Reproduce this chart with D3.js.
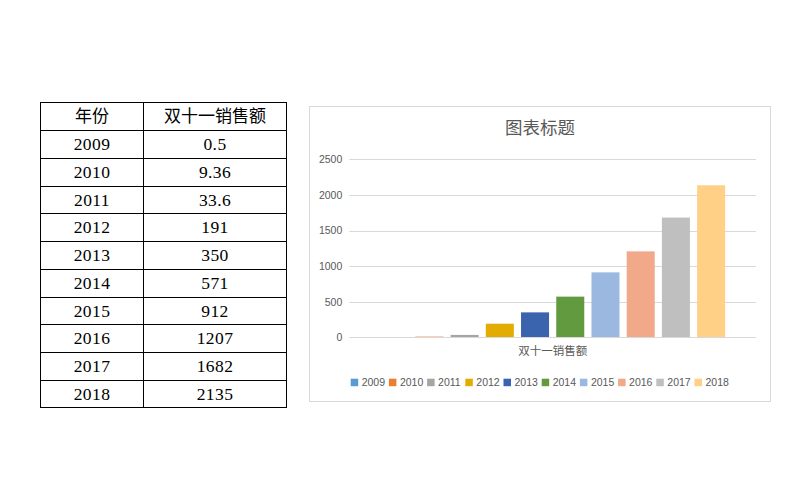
<!DOCTYPE html>
<html><head><meta charset="utf-8">
<script src="https://cdn.jsdelivr.net/npm/d3@7"></script>
<style>body{margin:0;background:#fff;}svg{display:block;}</style>
</head><body>
<svg id="c" width="807" height="484"></svg>
<script>
const years = ["2009","2010","2011","2012","2013","2014","2015","2016","2017","2018"];
const salesText = ["0.5","9.36","33.6","191","350","571","912","1207","1682","2135"];
const sales = [0.5, 9.36, 33.6, 191, 350, 571, 912, 1207, 1682, 2135];
const headers = ["年份", "双十一销售额"];
const category = ["双十一销售额"];
const yTicks = [0, 500, 1000, 1500, 2000, 2500];
const colors = ["#5B9BD5","#ED7D31","#A5A5A5","#E3AC00","#3A64AE","#629A3F","#9BB9E0","#F1A98A","#BFBFBF","#FFD085"];
const chartTitle = "图表标题";

const svg = d3.select("#c");
const cjk = "'Noto Sans CJK SC', 'Noto Sans', sans-serif";

// ---- Table ----
const tx0 = 40.5, tx1 = 143.5, tx2 = 286.5, ty0 = 102.5, ty1 = 407.5;
const rows = [headers].concat(years.map((y, i) => [y, salesText[i]]));
const rowY = d3.scaleBand().domain(d3.range(rows.length)).range([ty0, ty1]);
const tg = svg.append("g");
tg.append("rect").attr("x", tx0).attr("y", ty0).attr("width", tx2 - tx0).attr("height", ty1 - ty0)
  .attr("fill", "none").attr("stroke", "#000").attr("stroke-width", 1);
tg.append("line").attr("x1", tx1).attr("x2", tx1).attr("y1", ty0).attr("y2", ty1).attr("stroke", "#000");
tg.selectAll(".hl").data(d3.range(1, rows.length)).join("line")
  .attr("x1", tx0).attr("x2", tx2)
  .attr("y1", d => Math.round(rowY(d)) + 0.5).attr("y2", d => Math.round(rowY(d)) + 0.5)
  .attr("stroke", "#000");
rows.forEach((r, i) => {
  const cy = rowY(i) + rowY.bandwidth() / 2;
  [[(tx0 + tx1) / 2, r[0]], [(tx1 + tx2) / 2, r[1]]].forEach(([cx, t]) => {
    tg.append("text").attr("x", cx).attr("y", cy).attr("dy", "0.35em")
      .attr("text-anchor", "middle")
      .attr("font-family", i === 0 ? cjk : "'Liberation Serif', serif")
      .attr("font-size", i === 0 ? 17 : 17.5)
      .attr("letter-spacing", i === 0 ? 0 : 0.4)
      .attr("fill", "#000").text(t);
  });
});

// ---- Chart ----
const cg = svg.append("g");
cg.append("rect").attr("x", 309.5).attr("y", 106.5).attr("width", 461).attr("height", 295)
  .attr("fill", "#fff").attr("stroke", "#d9d9d9");
cg.append("text").attr("x", 540).attr("y", 128).attr("dy", "0.35em").attr("text-anchor", "middle")
  .attr("font-family", cjk).attr("font-size", 17.5).attr("fill", "#595959").text(chartTitle);

const plotL = 349.3, plotR = 756, y0 = 337.3, yTop = 159.3;
const y = d3.scaleLinear().domain([0, 2500]).range([y0, yTop]);
const x0 = d3.scaleBand().domain(category).range([plotL, plotR]).paddingOuter(0.0774);
const x1 = d3.scaleBand().domain(years).range([0, x0.bandwidth()]).paddingInner(0.2045).paddingOuter(0.1023);

cg.selectAll(".grid").data(yTicks.filter(d => d > 0)).join("line")
  .attr("x1", plotL).attr("x2", plotR)
  .attr("y1", d => Math.round(y(d)) + 0.5).attr("y2", d => Math.round(y(d)) + 0.5)
  .attr("stroke", "#d9d9d9");

const yAxis = d3.axisLeft(y).tickValues(yTicks).tickFormat(d3.format("d")).tickSize(0).tickPadding(7);
const ya = cg.append("g").attr("transform", `translate(${plotL},0)`).call(yAxis);
ya.select(".domain").remove();
ya.selectAll("text").attr("font-family", "'Liberation Sans', Arial, sans-serif")
  .attr("font-size", 10.5).attr("fill", "#595959");

const bg = cg.append("g");
years.forEach((yr, i) => {
  bg.append("rect")
    .attr("x", x0(category[0]) + x1(yr)).attr("width", x1.bandwidth())
    .attr("y", y(sales[i])).attr("height", y0 - y(sales[i]))
    .attr("fill", colors[i]);
});

cg.append("line").attr("x1", plotL).attr("x2", plotR).attr("y1", 337.5).attr("y2", 337.5)
  .attr("stroke", "#d9d9d9");

const xAxis = d3.axisBottom(x0).tickSize(0).tickPadding(10);
const xa = cg.append("g").attr("transform", `translate(0,${y0})`).call(xAxis);
xa.select(".domain").remove();
xa.selectAll("text").attr("font-family", cjk).attr("font-size", 11.5).attr("fill", "#595959");

// legend
const lx = d3.scaleBand().domain(years).range([350.7, 350.7 + 38.2 * 10]);
const lg = cg.append("g");
years.forEach((yr, i) => {
  lg.append("rect").attr("x", lx(yr)).attr("y", 378.7).attr("width", 7.5).attr("height", 7.5).attr("fill", colors[i]);
  lg.append("text").attr("x", lx(yr) + 11).attr("y", 382.5).attr("dy", "0.35em")
    .attr("font-family", "'Liberation Sans', Arial, sans-serif").attr("font-size", 10.5)
    .attr("fill", "#595959").text(yr);
});
</script>
</body></html>
